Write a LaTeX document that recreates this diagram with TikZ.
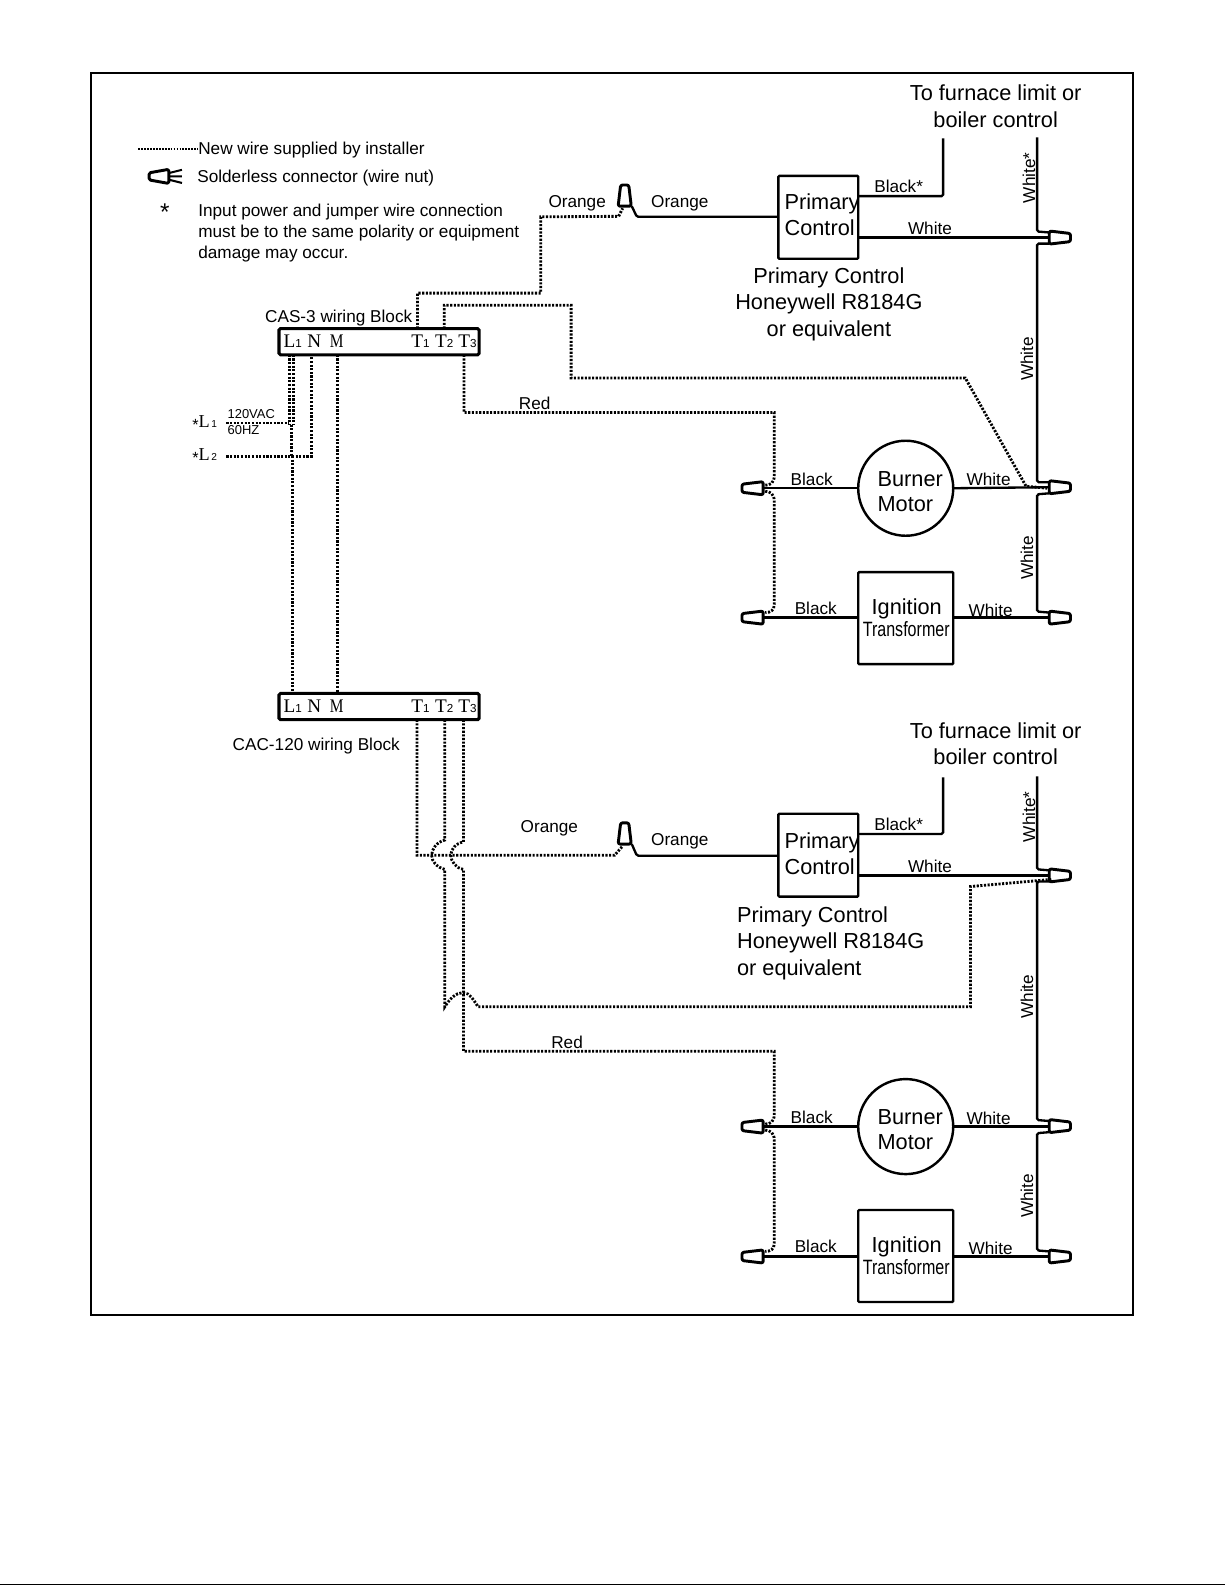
\documentclass[tikz,border=0pt]{standalone}
\usepackage{fontspec}
\setmainfont{Liberation Sans}
\newfontfamily\serifterm{Liberation Serif}
\newcommand{\fsz}[1]{\fontsize{#1}{#1}\selectfont}
\newcommand{\termlab}[2]{{\serifterm\fsz{19}#1}{\fsz{11.5}#2}}
\tikzset{
  wire/.style={line width=2.3pt,rounded corners=1.5pt,line cap=butt},
  newwire/.style={line width=2.8pt,dash pattern=on 2.1pt off 1.5pt,line cap=butt},
  thinwire/.style={line width=2pt,dash pattern=on 1.7pt off 1.2pt},
  frame/.style={line width=2pt,draw=black},
  block/.style={draw,line width=3pt,rounded corners=1.5pt,minimum width=198,minimum height=26,outer sep=0pt,inner sep=0pt},
  unit/.style={draw,line width=2.4pt,rounded corners=1pt,outer sep=0pt,inner sep=0pt,align=center},
  smalltxt/.style={inner sep=0pt,font=\fsz{17}},
  bigtxt/.style={inner sep=0pt,font=\fsz{21.5},align=center},
  lefttxt/.style={inner sep=0pt,font=\fsz{21.5},align=left},
  termtxt/.style={inner sep=0pt},
  nut/.pic={\draw[line width=2.9pt,rounded corners=2pt,fill=white,line join=round] (0,-6.5) -- (21,-4) -- (21,4) -- (0,6.5) -- cycle;}
}
\begin{document}
\begin{tikzpicture}[x=1pt,y=-1pt]
\useasboundingbox (0,0) rectangle (1212,1568);
\fill[black] (0,1566.6) rectangle (1212,1568);
\draw[frame] (90,72) rectangle (1121,1301);

% ---------- legend ----------
\coordinate (legA) at (137,147.5);
\node[smalltxt,anchor=west] (legNew) at (196,148.5) {New wire supplied by installer};
\draw[thinwire] (legA) -- (legNew.west |- legA);
\node[smalltxt,anchor=west] (legNut) at (195,176) {Solderless connector (wire nut)};
\draw[line width=2.9pt,rounded corners=1.5pt,line join=round] (167,167.5) -- (147.5,171) -- (147.5,178) -- (167,181.5) -- cycle;
\draw[line width=2pt] (168,171) -- (180,168) (168,174.5) -- (180,174.5) (168,178) -- (180,181);
\node[inner sep=0pt,font=\fsz{24}] (legStar) at (163,210) {*};
\node[inner sep=0pt,anchor=north west,align=left,font=\fontsize{17}{20.8}\selectfont] (legNote) at (196,201.5)
  {Input power and jumper wire connection\\must be to the same polarity or equipment\\damage may occur.};

% ---------- wiring blocks ----------
\node[block] (cas) at (375,338) {};
\node[smalltxt,anchor=east] (casLab) at (408,314.5) {CAS-3 wiring Block};
\node[termtxt] (a1) at (289.5,338) {\termlab{L}{1}};
\node[termtxt] (a2) at (311,338) {\termlab{N}{}};
\node[termtxt] (a3) at (333,338) {\scalebox{0.8}[1]{\termlab{M}{}}};
\node[termtxt] (a4) at (416,338) {\termlab{T}{1}};
\node[termtxt] (a5) at (439.5,338) {\termlab{T}{2}};
\node[termtxt] (a6) at (462.5,338) {\termlab{T}{3}};

\node[block] (cac) at (375,699) {};
\node[smalltxt,anchor=west] (cacLab) at (230,738.5) {CAC-120 wiring Block};
\node[termtxt] (b1) at (289.5,699) {\termlab{L}{1}};
\node[termtxt] (b2) at (311,699) {\termlab{N}{}};
\node[termtxt] (b3) at (333,699) {\scalebox{0.8}[1]{\termlab{M}{}}};
\node[termtxt] (b4) at (416,699) {\termlab{T}{1}};
\node[termtxt] (b5) at (439.5,699) {\termlab{T}{2}};
\node[termtxt] (b6) at (462.5,699) {\termlab{T}{3}};

% ---------- line input ----------
\node[termtxt,anchor=west] (inA) at (190,418.5) {\raisebox{-3pt}{\fsz{16}*}{\serifterm\fsz{18}L}\,{\fsz{10}1}};
\node[termtxt,anchor=west] (inB) at (190,451.5) {\raisebox{-3pt}{\fsz{16}*}{\serifterm\fsz{18}L}\,{\fsz{10}2}};
\node[termtxt,anchor=west,font=\fsz{12.8}] (volt) at (225,410) {120VAC};
\node[termtxt,anchor=west,font=\fsz{12.8}] (hz) at (225,425) {60HZ};
\coordinate (inAend) at (224,418.5);
\coordinate (inBend) at (224,451.5);

% ---------- upper units ----------
\node[unit,minimum width=79,minimum height=82] (pc1) at (809.5,215) {};
\node[lefttxt,anchor=west] (pc1t) at (776,212.5) {Primary\\[4.5pt]Control};
\node[bigtxt] (pc1n) at (820,301) {Primary Control\\[4.5pt]Honeywell R8184G\\[4.5pt]or equivalent};
\node[bigtxt] (lim1) at (985,105) {To furnace limit or\\[4.5pt]boiler control};
\node[circle,draw,line width=2.4pt,minimum size=94,outer sep=0pt,inner sep=0pt] (bm1) at (896,483) {};
\node[lefttxt,anchor=west] (bm1t) at (868,486) {Burner\\[3.5pt]Motor};
\node[unit,minimum width=94,minimum height=91] (ig1) at (896,611.5) {};
\node[bigtxt] (ig1a) at (897,602) {Ignition};
\node[inner sep=0pt] (ig1b) at (896.5,622) {\scalebox{0.775}[1]{\fsz{20.5}Transformer}};

% nuts
\pic[rotate=90] at (618,204) {nut};
\coordinate (nw1) at (612,214);
\pic at (1038,235) {nut};
\pic at (1038,482) {nut};
\pic at (1038,611) {nut};
\pic[rotate=180] at (755,483) {nut};
\pic[rotate=180] at (755,611) {nut};

% solid wires
\coordinate (nutR1a) at (1038,235);
\coordinate (nutR1b) at (1038,482);
\coordinate (nutR1c) at (1038,611);
\coordinate (nutL1b) at (755,483);
\coordinate (nutL1c) at (755,611);
\coordinate (lim1w) at (1026,136);
\coordinate (lim1b) at (933,137);
\draw[wire] (pc1.east |- 0,194) -- (933,194) -- (lim1b);
\draw[wire] (pc1.east |- 0,235) -- (nutR1a);
\draw[wire] (lim1w) -- (1026,229) -- (1038,230);
\draw[wire] (1038,241) -- (1026,241) -- (1026,477) -- (1038,477);
\draw[wire] (1038,488) -- (1026,489) -- (1026,605) -- (1038,606);
\draw[wire] (pc1.west |- 0,214.5) -- (630,214.5) -- (625,204);
\draw[wire] (nutL1b) -- (bm1.west);
\draw[wire] (bm1.east) -- (nutR1b);
\draw[wire] (nutL1c) -- (ig1.west |- nutL1c);
\draw[wire] (ig1.east |- nutR1c) -- (nutR1c);

% labels upper
\node[smalltxt] (l1) at (571,201) {Orange};
\node[smalltxt] (l2) at (672.5,201) {Orange};
\node[smalltxt] (l3) at (889,184) {Black*};
\node[smalltxt] (l4) at (920,226) {White};
\node[smalltxt,rotate=90] (l5) at (1018,176) {White*};
\node[smalltxt,rotate=90] (l6) at (1016,355) {White};
\node[smalltxt,rotate=90] (l7) at (1016,552) {White};
\node[smalltxt] (l8) at (529,399) {Red};
\node[smalltxt] (l9) at (803,474) {Black};
\node[smalltxt] (l10) at (978,474.5) {White};
\node[smalltxt] (l11) at (807,601.5) {Black};
\node[smalltxt] (l12) at (980,603.5) {White};

% ---------- lower units ----------
\node[unit,minimum width=79,minimum height=82] (pc2) at (809.5,846) {};
\node[lefttxt,anchor=west] (pc2t) at (776,844.5) {Primary\\[4.5pt]Control};
\node[lefttxt,anchor=west] (pc2n) at (729,933) {Primary Control\\[4.5pt]Honeywell R8184G\\[4.5pt]or equivalent};
\node[bigtxt] (lim2) at (985,736) {To furnace limit or\\[4.5pt]boiler control};
\node[circle,draw,line width=2.4pt,minimum size=94,outer sep=0pt,inner sep=0pt] (bm2) at (896,1114.5) {};
\node[lefttxt,anchor=west] (bm2t) at (868,1117.5) {Burner\\[3.5pt]Motor};
\node[unit,minimum width=94,minimum height=91] (ig2) at (896,1242.5) {};
\node[bigtxt] (ig2a) at (897,1233.5) {Ignition};
\node[inner sep=0pt] (ig2b) at (896.5,1253.5) {\scalebox{0.775}[1]{\fsz{20.5}Transformer}};

\pic[rotate=90] at (618,835) {nut};
\pic at (1038,866) {nut};
\pic at (1038,1114) {nut};
\pic at (1038,1243) {nut};
\pic[rotate=180] at (755,1114.5) {nut};
\pic[rotate=180] at (755,1243) {nut};

\coordinate (nutR2a) at (1038,866);
\coordinate (nutR2b) at (1038,1114.5);
\coordinate (nutR2c) at (1038,1243);
\coordinate (nutL2b) at (755,1114.5);
\coordinate (nutL2c) at (755,1243);
\coordinate (lim2w) at (1026,768);
\coordinate (lim2b) at (933,769);
\draw[wire] (pc2.east |- 0,825) -- (933,825) -- (lim2b);
\draw[wire] (pc2.east |- 0,866) -- (nutR2a);
\draw[wire] (lim2w) -- (1026,860) -- (1038,861);
\draw[wire] (1038,872) -- (1026,872) -- (1026,1108) -- (1038,1109);
\draw[wire] (1038,1120) -- (1026,1121) -- (1026,1237) -- (1038,1238);
\draw[wire] (pc2.west |- 0,846.5) -- (630,846.5) -- (625,835);
\draw[wire] (nutL2b) -- (bm2.west);
\draw[wire] (bm2.east) -- (nutR2b);
\draw[wire] (nutL2c) -- (ig2.west |- nutL2c);
\draw[wire] (ig2.east |- nutR2c) -- (nutR2c);

\node[smalltxt] (m1) at (543.5,819) {Orange};
\node[smalltxt] (m2) at (672.5,832) {Orange};
\node[smalltxt] (m3) at (889,815.5) {Black*};
\node[smalltxt] (m4) at (920,857) {White};
\node[smalltxt,rotate=90] (m5) at (1018,808) {White*};
\node[smalltxt,rotate=90] (m6) at (1016,986) {White};
\node[smalltxt,rotate=90] (m7) at (1016,1183) {White};
\node[smalltxt] (m8) at (561,1031) {Red};
\node[smalltxt] (m9) at (803,1105.5) {Black};
\node[smalltxt] (m10) at (978,1106) {White};
\node[smalltxt] (m11) at (807,1233) {Black};
\node[smalltxt] (m12) at (980,1235) {White};

% ---------- new (dotted) wires ----------
% supply to both blocks
\draw[newwire] (inAend) -- (286,418.5);
\draw[newwire] (inBend) -- (308,451.5) -- (308,351);
\draw[newwire] (286.5,351) -- (286.5,420);
\draw[newwire] (290.5,351) -- (290.5,420);
\draw[newwire] (288.5,420) -- (288.5,451);
\draw[newwire] (289.5,451) -- (289.5,686);
\draw[newwire] (333.5,351) -- (333.5,686);

% upper block outputs
\draw[newwire] (413,325) -- (413,290) -- (535,290) -- (535,214.5) -- (nw1) -- (616,206);
\draw[newwire] (439.5,325) -- (439.5,302) -- (565,302) -- (565,374) -- (955,374) -- (1015,481) -- (1036,483);
\draw[newwire] (459,351) -- (459,408) -- (766,408) -- (766,470) .. controls (766,478) and (762,480) .. (757,480);
\draw[newwire] (757,486) .. controls (762,486) and (766,489) .. (766,496) -- (766,598) .. controls (766,604) and (762,606) .. (757,606);

% lower block outputs
\draw[newwire] (412.5,712) -- (412.5,846) -- (608,846) -- (616,837);
\draw[newwire] (440,712) -- (440,831) .. controls (432,833) and (427,840) .. (427,846) .. controls (427,852) and (432,858) .. (440,860)
  -- (440,996) .. controls (445,988) and (451,982) .. (458,982) .. controls (465,982) and (468,989) .. (473,996)
  -- (960,996) -- (960,877) -- (1040,870);
\draw[newwire] (458.5,712) -- (458.5,833) .. controls (451,834) and (446,840) .. (446,846) .. controls (446,852) and (451,859) .. (458.5,860)
  -- (458.5,1040) -- (766,1040) -- (766,1102) .. controls (766,1110) and (762,1112) .. (757,1112);
\draw[newwire] (757,1118) .. controls (762,1118) and (766,1121) .. (766,1128) -- (766,1230) .. controls (766,1236) and (762,1238) .. (757,1238);
\end{tikzpicture}
\end{document}
